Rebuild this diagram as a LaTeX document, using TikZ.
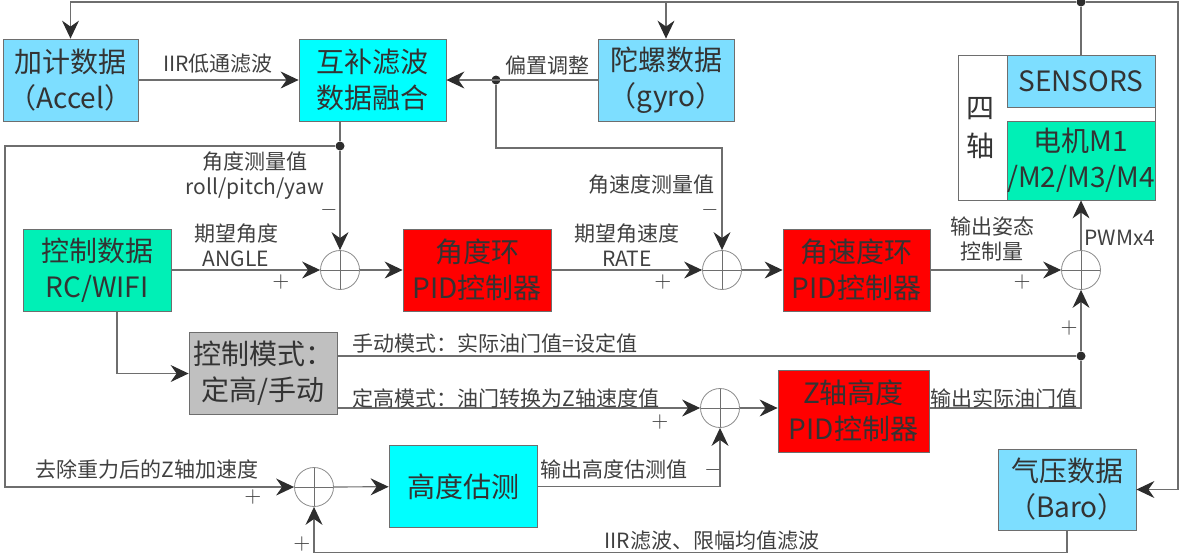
\documentclass[tikz,border=0pt]{standalone}
\usepackage{fontspec}
\setmainfont{Noto Sans CJK SC}
\usetikzlibrary{arrows.meta}
\definecolor{linec}{RGB}{110,110,110}
\definecolor{tipc}{RGB}{45,45,45}
\definecolor{skyb}{RGB}{125,222,255}
\definecolor{cyanb}{RGB}{0,255,255}
\definecolor{greenb}{RGB}{0,240,182}
\definecolor{redb}{RGB}{255,0,0}
\definecolor{grayb}{RGB}{192,192,192}
\tikzset{
  blk/.style={draw=linec, inner sep=0pt, minimum width=74pt, minimum height=41pt,
    align=center, font=\fontsize{14}{18}\selectfont, text=black!80},
  sumc/.style={circle, draw=linec!80, minimum size=19.5pt, inner sep=0pt,
    path picture={\draw[linec] (path picture bounding box.north) -- (path picture bounding box.south)
      (path picture bounding box.west) -- (path picture bounding box.east);}},
  lbl/.style={font=\fontsize{10.5}{12.5}\selectfont, text=black!75, inner sep=1pt},
  sig/.style={draw=linec, line width=0.6pt},
  arr/.style={sig, -{Stealth[length=9pt, width=8.5pt, inset=3pt, color=tipc]}},
  dot/.style={circle, fill=tipc, inner sep=0pt, minimum size=4.5pt}
}
\begin{document}
\begin{tikzpicture}[x=0.5pt,y=-0.5pt]
\useasboundingbox (0,0) rectangle (1181,558);
% sensor data and fusion
\node[blk, fill=skyb, minimum width=67.5pt] (accel) at (70.5,80) {加计数据\\（Accel）};
\node[blk, fill=cyanb, minimum width=73.5pt] (fuse) at (372.5,80) {互补滤波\\数据融合};
\node[blk, fill=skyb, minimum width=68pt] (gyro) at (666,80) {陀螺数据\\（gyro）};
% quadcopter
\node[draw=linec, minimum width=98.5pt, minimum height=72.5pt, inner sep=0pt] (quad) at (1056.5,127.5) {};
\node[blk, fill=skyb, minimum height=26pt] (sens) at (1081,81) {SENSORS};
\node[blk, fill=greenb, minimum height=39.5pt] (motor) at (1081,160.5) {电机M1\\/M2/M3/M4};
\node[font=\fontsize{14}{19}\selectfont, align=center, text=black!80] (quadt) at (980,128) {四\\轴};
% controllers
\node[blk, fill=greenb] (ctrl) at (97,270) {控制数据\\RC/WIFI};
\node[blk, fill=redb] (apid) at (477,270) {角度环\\PID控制器};
\node[blk, fill=redb, minimum width=73.5pt] (rpid) at (856.5,270) {角速度环\\PID控制器};
\node[blk, fill=grayb] (mode) at (263,373.5) {控制模式：\\定高/手动};
\node[blk, fill=redb, minimum width=75.5pt] (zpid) at (853.5,411) {Z轴高度\\PID控制器};
\node[blk, fill=cyanb] (hest) at (463,486.5) {高度估测};
\node[blk, fill=skyb, minimum width=69pt, minimum height=40.5pt] (baro) at (1067,489.5) {气压数据\\（Baro）};
% summing points
\node[sumc] (s1) at (340,270) {};
\node[sumc] (s2) at (722,270) {};
\node[sumc] (s3) at (1081,270) {};
\node[sumc] (s4) at (314,487) {};
\node[sumc] (s5) at (720,408) {};
% junctions
\node[dot] (dtop) at (1081,2) {};
\node[dot] (dbias) at (496,80) {};
\node[dot] (dang) at (340,146) {};
\node[dot] (dthr) at (1081,356) {};
\coordinate (cR) at (1178,2);
\coordinate (cL) at (5,146);
\coordinate (cG) at (496,148);
% connectors
\draw[sig] (sens.north) -- (dtop);
\draw[arr] (dtop) -| (accel.north);
\draw[arr] (dtop) -| (gyro.north);
\draw[arr] (dtop) -- (cR) |- (baro.east);
\draw[arr] (accel) -- (fuse);
\draw[arr] (gyro) -- (fuse);
\draw[sig] (dang |- fuse.south) -- (dang);
\draw[arr] (dang) -- (s1);
\draw[arr] (dang) -- (cL) |- (s4);
\draw[arr] (dbias) -- (cG) -| (s2);
\draw[arr] (ctrl) -- (s1);
\draw[arr] (s1) -- (apid);
\draw[arr] (apid) -- (s2);
\draw[arr] (s2) -- (rpid);
\draw[arr] (rpid) -- (s3);
\draw[arr] (s3) -- (motor);
\draw[arr] (dthr) -- (s3);
\draw[sig] (mode.east |- dthr) -- (dthr);
\draw[arr] ([xshift=10pt]ctrl.south) |- (mode.west);
\draw[arr] (mode.east |- s5) -- (s5);
\draw[arr] (s5) -- (zpid.west |- s5);
\draw[sig] (zpid.east |- s5) -| (dthr);
\draw[arr] (s4) -- (hest);
\draw[arr] (hest) -| (s5);
\draw[arr] (baro.south) -- ++(0,22) -| (s4);
% labels
\node[lbl] (tiir) at (218,64) {IIR低通滤波};
\node[lbl] (tbias) at (547,65) {偏置调整};
\node[lbl, align=center] (tang) at (255,176) {角度测量值\\roll/pitch/yaw};
\node[lbl] (tm1) at (329,210) {$-$};
\node[lbl, align=center] (tdesa) at (236,245) {期望角度\\ANGLE};
\node[lbl] (tp1) at (281,282) {$+$};
\node[lbl, align=center] (tdesr) at (627,245) {期望角速度\\RATE};
\node[lbl] (tp2) at (663,282) {$+$};
\node[lbl] (tgyr) at (651,185) {角速度测量值};
\node[lbl] (tm2) at (710,210) {$-$};
\node[lbl, align=center] (tout) at (992,239) {输出姿态\\控制量};
\node[lbl] (tp3) at (1022,282) {$+$};
\node[lbl] (tpwm) at (1120,238) {PWMx4};
\node[lbl] (tp4) at (1069,328) {$+$};
\node[lbl, anchor=west] (tman) at (350,343) {手动模式：实际油门值=设定值};
\node[lbl, anchor=west] (talt) at (350,398) {定高模式：油门转换为Z轴速度值};
\node[lbl] (tp5) at (660,422) {$+$};
\node[lbl, anchor=west] (tthr) at (928,398) {输出实际油门值};
\node[lbl] (tacc) at (147,469) {去除重力后的Z轴加速度};
\node[lbl] (tp6) at (253,497) {$+$};
\node[lbl, anchor=west] (thout) at (538,469) {输出高度估测值};
\node[lbl] (tm3) at (713,470) {$-$};
\node[lbl] (tfilt) at (712,541) {IIR滤波、限幅均值滤波};
\node[lbl] (tp7) at (302,544) {$+$};
\end{tikzpicture}
\end{document}
